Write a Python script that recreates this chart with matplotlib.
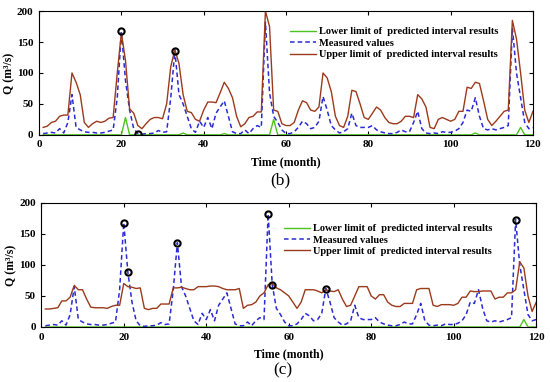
import matplotlib
matplotlib.use("Agg")
import numpy as np
import matplotlib.pyplot as plt

plt.rcParams["font.family"] = ["Liberation Serif", "DejaVu Serif"]
plt.rcParams["font.weight"] = "bold"

months = np.arange(1, 121)

measured = [
    2, 3, 4, 3, 10, 3, 20, 65, 12, 8,
    5, 4, 4, 3, 3, 4, 6, 8, 60, 168,
    88, 40, 10, 2, 1, 2, 2, 3, 7, 4,
    5, 60, 136, 65, 50, 30, 10, 4, 22, 12,
    28, 10, 35, 45, 55, 30, 5, 2, 2, 8,
    2, 10, 15, 12, 182, 68, 30, 20, 8, 2,
    2, 5, 12, 22, 18, 10, 12, 22, 62, 40,
    15, 8, 3, 5, 10, 35, 15, 12, 12, 12,
    15, 8, 5, 3, 2, 2, 4, 8, 5, 5,
    20, 38, 10, 3, 2, 3, 2, 5, 4, 4,
    6, 10, 20, 40, 38, 60, 30, 10, 8, 10,
    8, 10, 12, 15, 173, 100, 60, 20, 10, 12,
]

upper_b = [
    12, 14, 20, 22, 30, 32, 32, 100, 85, 65,
    20, 12, 18, 22, 20, 22, 27, 28, 100, 165,
    120, 42, 35, 15, 10, 18, 25, 28, 28, 26,
    50, 110, 138, 115, 65, 38, 36, 25, 22, 40,
    53, 53, 52, 68, 85, 75, 60, 30, 13, 18,
    28, 30, 37, 37, 200, 175, 40, 38, 18, 15,
    15, 20, 40, 55, 52, 40, 38, 45, 100, 92,
    70, 30, 15, 12, 30, 72, 70, 50, 28, 25,
    35, 45, 40, 28, 20, 18, 18, 22, 30, 30,
    28, 65, 58, 45, 12, 10, 25, 28, 25, 22,
    25, 38, 38, 77, 75, 85, 83, 55, 25, 15,
    22, 30, 38, 40, 185, 155, 100, 40, 20, 38,
]

lower_b = [0] * 120
lower_b[20] = 28
lower_b[34] = 3
lower_b[44] = 2
lower_b[56] = 25
lower_b[105] = 3
lower_b[116] = 12

upper_c = [
    29, 29, 30, 31, 42, 42, 48, 67, 60, 60,
    45, 32, 31, 31, 31, 30, 33, 35, 35, 70,
    65, 64, 62, 63, 30, 28, 30, 30, 37, 37,
    37, 63, 63, 64, 62, 60, 60, 65, 65, 65,
    66, 66, 65, 62, 60, 60, 60, 62, 30, 35,
    36, 40, 50, 55, 68, 70, 63, 60, 55, 50,
    40, 30, 40, 60, 60, 60, 58, 55, 60, 58,
    57, 60, 45, 33, 35, 50, 65, 65, 65, 50,
    45, 52, 52, 40, 35, 33, 33, 38, 38, 38,
    60, 62, 62, 62, 35, 33, 36, 36, 36, 35,
    38, 48, 48, 58, 57, 57, 58, 58, 58, 45,
    48, 48, 55, 55, 60, 105, 95, 50, 25, 40,
]

lower_c = [0] * 120
lower_c[116] = 12

circles_b = [20, 24, 33]
circles_c = [20, 21, 33, 55, 56, 69, 115]

c_low = "#4cc51a"
c_meas = "#2b2bd6"
c_up = "#9c3a1c"


def draw_panel(ax, upper, lower, circles, legend_anchor):
    ax.plot(months, lower, color=c_low, lw=1.0,
            label="Lower limit of  predicted interval results")
    ax.plot(months, measured, color=c_meas, lw=1.1, ls=(0, (3, 2)),
            label="Measured values")
    ax.plot(months, upper, color=c_up, lw=1.0,
            label="Upper limit of  predicted interval results")
    idx = [m - 1 for m in circles]
    ax.plot([months[i] for i in idx], [measured[i] for i in idx], "o",
            mfc="none", mec="black", mew=1.5, ms=4.5)
    ax.set_xlim(0, 120)
    ax.set_ylim(0, 200)
    ax.set_xticks(range(0, 121, 20))
    ax.set_yticks(range(0, 201, 50))
    ax.tick_params(direction="in", top=True, right=True, labelsize=8,
                   length=3, width=0.8, pad=4)
    for lab in ax.get_xticklabels() + ax.get_yticklabels():
        lab.set_fontweight("bold")
    ax.set_xlabel("Time (month)", fontsize=8.5, fontweight="bold", labelpad=5)
    ax.set_ylabel("Q (m³/s)", fontsize=8.5, fontweight="bold", labelpad=1)
    ax.legend(loc="upper right", bbox_to_anchor=legend_anchor, frameon=False,
              handlelength=2.5, handletextpad=0.3,
              labelspacing=0.2, borderpad=0.0, borderaxespad=0.0,
              prop={"weight": "bold", "size": 7.5})
    for s in ax.spines.values():
        s.set_linewidth(0.8)


fig = plt.figure(figsize=(5.5, 3.82), dpi=100)
ax_b = fig.add_axes([0.071, 0.647, 0.898, 0.324])
ax_c = fig.add_axes([0.075, 0.144, 0.900, 0.325])

draw_panel(ax_b, upper_b, lower_b, circles_b, (0.93, 0.87))
draw_panel(ax_c, upper_c, lower_c, circles_c, (0.912, 0.83))

fig.text(0.51, 0.529, "(b)", fontsize=12.5, fontweight="normal", ha="center", va="center")
fig.text(0.515, 0.031, "(c)", fontsize=12.5, fontweight="normal", ha="center", va="center")

fig.savefig("out.png", dpi=100)
